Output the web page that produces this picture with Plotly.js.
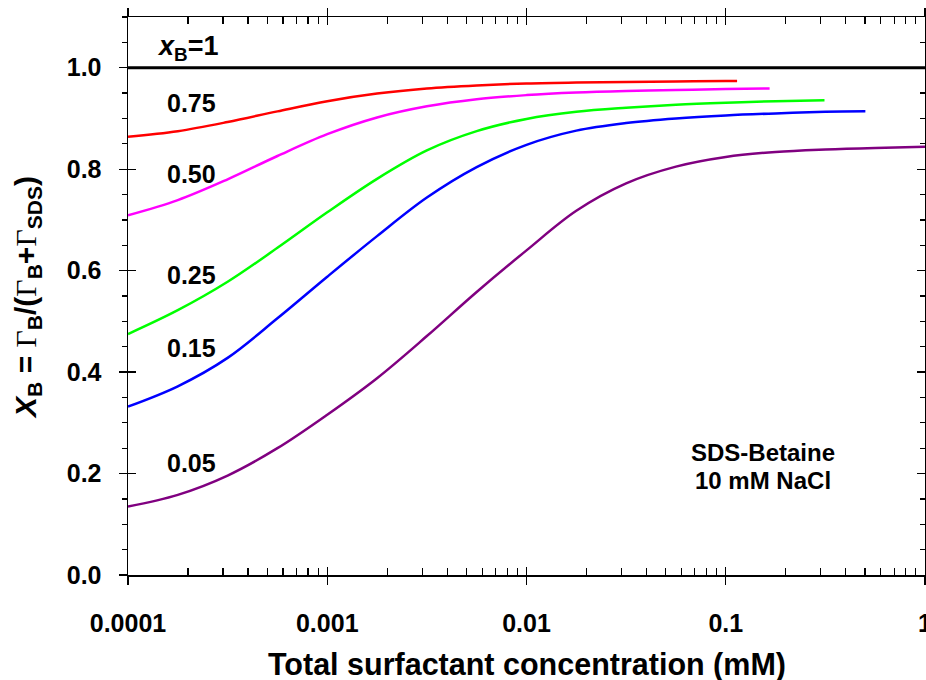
<!DOCTYPE html>
<html>
<head>
<meta charset="utf-8">
<script src="https://cdn.plot.ly/plotly-3.0.1.min.js"></script>
<style>html,body{margin:0;padding:0;background:#fff;}#chart{width:926px;height:680px;}</style>
</head>
<body>
<div id="chart"></div>
<script>
// ---- data ----
const xTickVals = [0.0001, 0.001, 0.01, 0.1, 1];
const xTickText = ["0.0001", "0.001", "0.01", "0.1", "1"];

const xB1_x = [0.0001, 1];
const xB1_y = [1.0, 1.0];

const xB075_x = [0.0001, 0.0001778, 0.0003162, 0.0005623, 0.001, 0.001778, 0.003162, 0.005623, 0.01, 0.01778, 0.03162, 0.05623, 0.1, 0.114];
const xB075_y = [0.864, 0.875, 0.893, 0.914, 0.934, 0.949, 0.959, 0.965, 0.969, 0.971, 0.972, 0.973, 0.974, 0.974];

const xB050_x = [0.0001, 0.0001778, 0.0003162, 0.0005623, 0.001, 0.001778, 0.003162, 0.005623, 0.01, 0.01778, 0.03162, 0.05623, 0.1, 0.166];
const xB050_y = [0.709, 0.739, 0.780, 0.826, 0.869, 0.902, 0.924, 0.938, 0.946, 0.951, 0.954, 0.956, 0.958, 0.959];

const xB025_x = [0.0001, 0.0001778, 0.0003162, 0.0005623, 0.001, 0.001778, 0.003162, 0.005623, 0.01, 0.01778, 0.03162, 0.05623, 0.1, 0.1778, 0.313];
const xB025_y = [0.475, 0.522, 0.578, 0.645, 0.715, 0.781, 0.837, 0.875, 0.899, 0.913, 0.921, 0.927, 0.931, 0.934, 0.936];

const xB015_x = [0.0001, 0.0001778, 0.0003162, 0.0005623, 0.001, 0.001778, 0.003162, 0.005623, 0.01, 0.01778, 0.03162, 0.05623, 0.1, 0.1778, 0.3162, 0.502];
const xB015_y = [0.332, 0.372, 0.428, 0.506, 0.588, 0.668, 0.744, 0.804, 0.848, 0.876, 0.891, 0.900, 0.906, 0.910, 0.913, 0.914];

const xB005_x = [0.0001, 0.0001778, 0.0003162, 0.0005623, 0.001, 0.001778, 0.003162, 0.005623, 0.01, 0.01778, 0.03162, 0.05623, 0.1, 0.1778, 0.3162, 0.5623, 1];
const xB005_y = [0.135, 0.158, 0.196, 0.250, 0.316, 0.388, 0.471, 0.558, 0.640, 0.718, 0.772, 0.805, 0.824, 0.834, 0.839, 0.842, 0.844];

const curveLabels = ["0.75", "0.50", "0.25", "0.15", "0.05"];

// ---- minor tick positions for the log axis ----
const minorVals = [];
for (let e = -4; e < 0; e++) { for (let m = 2; m <= 9; m++) { minorVals.push(m * Math.pow(10, e)); } }

const line = (x, y, color, w) => ({
  x: x, y: y, type: "scatter", mode: "lines", line: {color: color, width: w, shape: "spline", smoothing: 1},
  hoverinfo: "skip", showlegend: false
});

const traces = [
  line(xB1_x, xB1_y, "#000000", 2.8),
  line(xB075_x, xB075_y, "#ff0000", 2.5),
  line(xB050_x, xB050_y, "#ff00ff", 2.5),
  line(xB025_x, xB025_y, "#00ff00", 2.5),
  line(xB015_x, xB015_y, "#0000ff", 2.5),
  line(xB005_x, xB005_y, "#800080", 2.5),
  {x: [], y: [], xaxis: "x2", yaxis: "y", type: "scatter", showlegend: false, hoverinfo: "skip"},
  {x: [], y: [], xaxis: "x3", yaxis: "y", type: "scatter", showlegend: false, hoverinfo: "skip"},
  {x: [], y: [], xaxis: "x4", yaxis: "y", type: "scatter", showlegend: false, hoverinfo: "skip"},
  {x: [], y: [], xaxis: "x", yaxis: "y2", type: "scatter", showlegend: false, hoverinfo: "skip"},
  {x: [], y: [], xaxis: "x", yaxis: "y3", type: "scatter", showlegend: false, hoverinfo: "skip"}
];

const FAM = "Liberation Sans, Arial, sans-serif";
const tickFont = {family: FAM, size: 25, color: "#000", weight: "bold"};
const lblFont = {family: FAM, size: 25, color: "#000", weight: "bold"};

const xBase = {type: "log", range: [-4, 0], tickmode: "array", tickvals: xTickVals, showgrid: false, zeroline: false, fixedrange: true};

const layout = {
  width: 926, height: 680,
  margin: {l: 128, r: 1, t: 17, b: 105},
  paper_bgcolor: "#fff", plot_bgcolor: "#fff",
  xaxis: Object.assign({}, xBase, {
    ticktext: xTickText, ticks: "outside", ticklen: 8, tickwidth: 1.3, tickcolor: "#000",
    showline: true, linecolor: "#000", linewidth: 1.5, tickfont: tickFont, ticklabelstandoff: 17,
    ticklabeloverflow: "allow",
    minor: {tickmode: "array", tickvals: minorVals, ticks: "inside", ticklen: 7, tickwidth: 1.2, tickcolor: "#000", showgrid: false}
  }),
  xaxis2: Object.assign({}, xBase, {
    overlaying: "x", side: "top", anchor: "y", showticklabels: false, ticks: "outside", ticklen: 8, tickwidth: 1.3, tickcolor: "#000",
    showline: true, linecolor: "#000", linewidth: 1.5,
    minor: {tickmode: "array", tickvals: minorVals, ticks: "inside", ticklen: 7, tickwidth: 1.2, tickcolor: "#000", showgrid: false}
  }),
  xaxis3: Object.assign({}, xBase, {
    overlaying: "x", side: "bottom", anchor: "y", showticklabels: false, ticks: "inside", ticklen: 8, tickwidth: 1.3, tickcolor: "#000", showline: false
  }),
  xaxis4: Object.assign({}, xBase, {
    overlaying: "x", side: "top", anchor: "y", showticklabels: false, ticks: "inside", ticklen: 8, tickwidth: 1.3, tickcolor: "#000", showline: false
  }),
  yaxis: {
    range: [0, 1.1], tickmode: "linear", tick0: 0, dtick: 0.2, tickformat: ".1f",
    ticks: "outside", ticklen: 8, tickwidth: 1.3, tickcolor: "#000",
    showline: true, linecolor: "#000", linewidth: 1.5, showgrid: false, zeroline: false,
    tickfont: tickFont, ticklabelstandoff: 12, fixedrange: true,
    minor: {tick0: 0, dtick: 0.05, ticks: "outside", ticklen: 5, tickwidth: 1.2, tickcolor: "#000", showgrid: false}
  },
  yaxis2: {
    overlaying: "y", side: "right", anchor: "x", range: [0, 1.1], tickmode: "linear", tick0: 0, dtick: 0.2,
    showticklabels: false, ticks: "inside", ticklen: 8, tickwidth: 1.3, tickcolor: "#000",
    showline: true, linecolor: "#000", linewidth: 1.5, showgrid: false, zeroline: false, fixedrange: true,
    minor: {tick0: 0, dtick: 0.05, ticks: "inside", ticklen: 5, tickwidth: 1.2, tickcolor: "#000", showgrid: false}
  },
  yaxis3: {
    overlaying: "y", side: "left", anchor: "x", range: [0, 1.1], tickmode: "linear", tick0: 0, dtick: 0.2,
    showticklabels: false, ticks: "inside", ticklen: 8, tickwidth: 1.3, tickcolor: "#000",
    showline: false, showgrid: false, zeroline: false, fixedrange: true
  },
  annotations: [
    {xref: "x", yref: "y", x: -3.70, y: 1.038, text: "<i>x</i><sub>B</sub>=1", showarrow: false, font: {family: FAM, size: 27, color: "#000", weight: "bold"}},
    {xref: "x", yref: "y", x: -3.679, y: 0.930, text: curveLabels[0], showarrow: false, font: lblFont},
    {xref: "x", yref: "y", x: -3.679, y: 0.790, text: curveLabels[1], showarrow: false, font: lblFont},
    {xref: "x", yref: "y", x: -3.679, y: 0.591, text: curveLabels[2], showarrow: false, font: lblFont},
    {xref: "x", yref: "y", x: -3.679, y: 0.447, text: curveLabels[3], showarrow: false, font: lblFont},
    {xref: "x", yref: "y", x: -3.679, y: 0.221, text: curveLabels[4], showarrow: false, font: lblFont},
    {xref: "x", yref: "y", x: -0.815, y: 0.2424, text: "SDS-Betaine", showarrow: false, font: {family: FAM, size: 24, color: "#000", weight: "bold"}},
    {xref: "x", yref: "y", x: -0.815, y: 0.1872, text: "10 mM NaCl", showarrow: false, font: {family: FAM, size: 24, color: "#000", weight: "bold"}},
    {xref: "paper", yref: "paper", x: 0.5, y: -0.1595, yanchor: "middle", text: "Total surfactant concentration (mM)", showarrow: false,
     font: {family: FAM, size: 30.5, color: "#000", weight: "bold"}},
    {xref: "paper", yref: "paper", x: -0.127, y: 0.498, xanchor: "center", yanchor: "middle", textangle: -90, showarrow: false,
     text: "<i>X</i><sub>B</sub> = <span style=\"font-family:'Liberation Serif';font-weight:normal\">Γ</span><sub>B</sub>/(<span style=\"font-family:'Liberation Serif';font-weight:normal\">Γ</span><sub>B</sub>+<span style=\"font-family:'Liberation Serif';font-weight:normal\">Γ</span><sub>SDS</sub>)",
     font: {family: FAM, size: 30, color: "#000", weight: "bold"}}
  ]
};

Plotly.newPlot("chart", traces, layout, {staticPlot: true, displayModeBar: false});
</script>
</body>
</html>
